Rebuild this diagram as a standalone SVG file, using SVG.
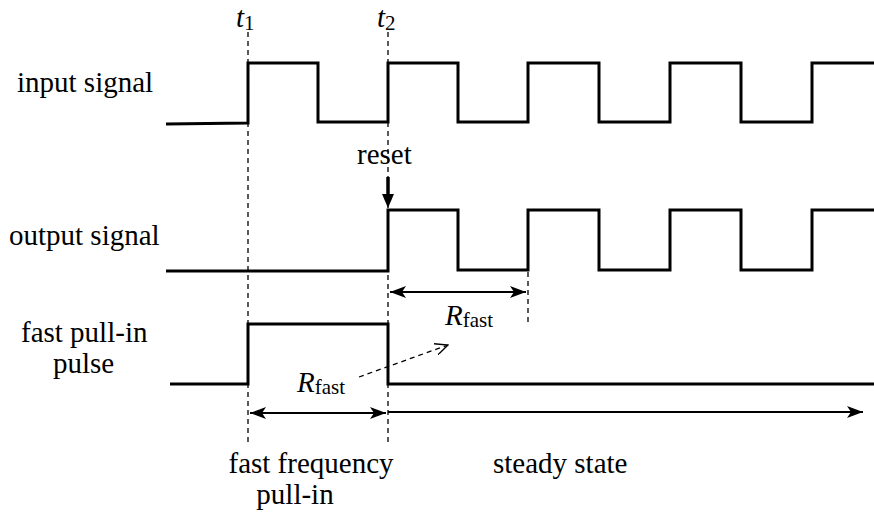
<svg xmlns="http://www.w3.org/2000/svg" width="874" height="512" viewBox="0 0 874 512">
<defs>
<marker id="ah" viewBox="0 0 16 12" refX="16" refY="6" markerWidth="16" markerHeight="12" markerUnits="userSpaceOnUse" orient="auto-start-reverse">
<path d="M0,0 L16,6 L0,12 L4,6 Z" fill="#000"/>
</marker>
<marker id="open" viewBox="0 0 14 12" refX="13" refY="6" markerWidth="14" markerHeight="12" markerUnits="userSpaceOnUse" orient="auto">
<path d="M0,0 L13,6 L0,12" fill="none" stroke="#000" stroke-width="1.3"/>
</marker>
</defs>
<g id="connectors" fill="none" stroke="#000">
<g stroke-width="1.3" stroke-dasharray="5,4">
<line x1="248" y1="32" x2="248" y2="442"/>
<line x1="388" y1="32" x2="388" y2="442"/>
<line x1="528" y1="272" x2="528" y2="324"/>
<line x1="359" y1="377" x2="448" y2="345" marker-end="url(#open)"/>
</g>
<g stroke-width="2">
<line x1="250" y1="413" x2="386" y2="413" marker-start="url(#ah)" marker-end="url(#ah)"/>
<line x1="390" y1="292" x2="526" y2="292" marker-start="url(#ah)" marker-end="url(#ah)"/>
<line x1="388" y1="412" x2="863" y2="412" marker-end="url(#ah)"/>
</g>
<line x1="388" y1="177" x2="388" y2="196" stroke-width="3.5"/>
<polygon points="382,194 394,194 388,208" fill="#000" stroke="none"/>
</g>
<g id="input-signal">
<text x="17" y="92" font-family="Liberation Serif" font-size="29">input signal</text>
<polyline fill="none" stroke="#000" stroke-width="3" points="166,124 248,123 248,63 318,63 318,122 388,122 388,63 458,63 458,122 528,122 528,63 599,63 599,122 670,122 670,63 741,63 741,122 812,122 812,63 874,63"/>
</g>
<g id="output-signal">
<text x="9" y="245" font-family="Liberation Serif" font-size="29">output signal</text>
<polyline fill="none" stroke="#000" stroke-width="3" points="166,271 388,271 388,210 458,210 458,270 528,270 528,210 599,210 599,270 670,270 670,210 741,210 741,270 812,270 812,210 874,210"/>
</g>
<g id="pulse">
<text x="21" y="342" font-family="Liberation Serif" font-size="29">fast pull-in</text>
<text x="53" y="373" font-family="Liberation Serif" font-size="29">pulse</text>
<polyline fill="none" stroke="#000" stroke-width="3" points="170,384 248,384 248,324 388,324 388,384 874,384"/>
</g>
<g id="labels">
<text x="236" y="27" font-family="Liberation Serif" font-size="29" font-style="italic">t<tspan font-size="21" font-style="normal" dy="3">1</tspan></text>
<text x="377" y="27" font-family="Liberation Serif" font-size="29" font-style="italic">t<tspan font-size="21" font-style="normal" dy="3">2</tspan></text>
<text x="357" y="164" font-family="Liberation Serif" font-size="29">reset</text>
<text x="445" y="325" font-family="Liberation Serif" font-size="29" font-style="italic">R<tspan font-size="21" font-style="normal" dy="2">fast</tspan></text>
<text x="297" y="392" font-family="Liberation Serif" font-size="29" font-style="italic">R<tspan font-size="21" font-style="normal" dy="2">fast</tspan></text>
<text x="311" y="473" font-family="Liberation Serif" font-size="29" text-anchor="middle">fast frequency</text>
<text x="295" y="504" font-family="Liberation Serif" font-size="29" text-anchor="middle">pull-in</text>
<text x="493" y="473" font-family="Liberation Serif" font-size="29">steady state</text>
</g>
</svg>
